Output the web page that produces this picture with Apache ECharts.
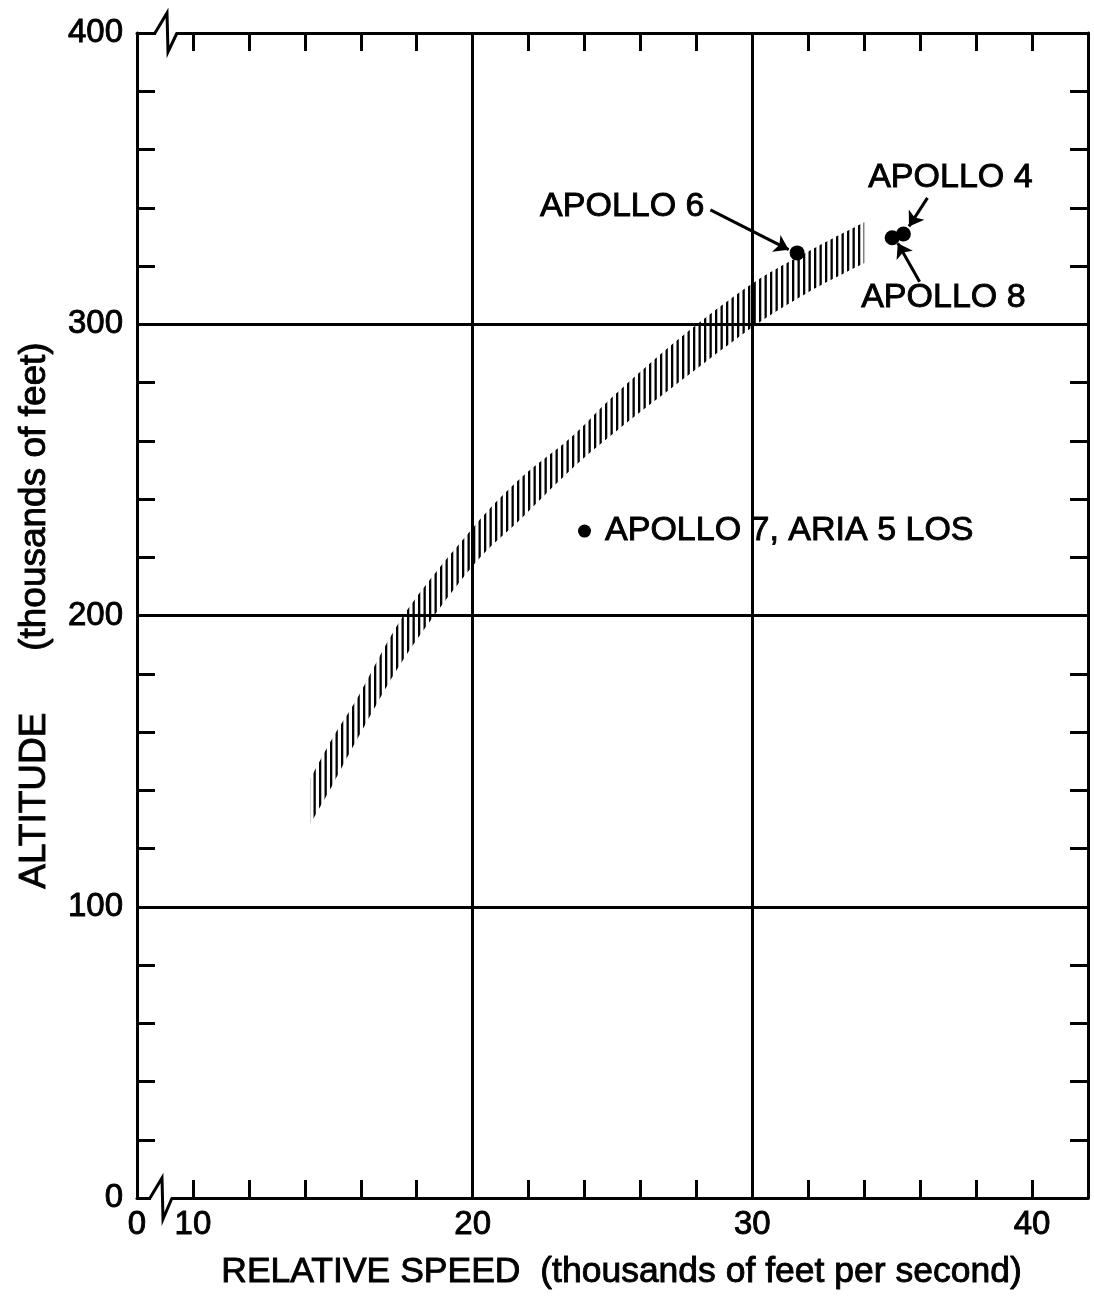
<!DOCTYPE html>
<html><head><meta charset="utf-8">
<script src="https://cdn.jsdelivr.net/npm/echarts@6/dist/echarts.min.js"></script>
<style>html,body{margin:0;padding:0;background:#fff}#c{width:1094px;height:1305px}</style>
</head><body><div id="c"></div>
<script>
// Band (hatched corridor) boundaries
const bandX     = [14.2, 15.0, 15.9, 17.6, 20.0, 21.7, 23.5, 25.1, 27.5, 30.0, 32.0, 34.0];
const bandUpper = [144, 158, 172, 201, 230, 247, 261, 276, 296, 314, 325, 335];
const bandLower = [128.5, 142, 158, 186, 217, 233, 250, 263, 281, 299, 311, 321];

// Flight points
const pointNames = ['APOLLO 6', 'APOLLO 4', 'APOLLO 8', 'APOLLO 7, ARIA 5 LOS'];
const pointX = [31.6, 35.4, 35.0, 24.0];
const pointY = [324.5, 331, 329.7, 229];

// Annotation labels (data coords) and arrows
const labelNames = ['APOLLO 6', 'APOLLO 4', 'APOLLO 8'];
const labelX = [28.29, 37.08, 36.83];
const labelY = [340.3, 350.3, 309.1];
const arrowFromX = [28.5, 36.26, 35.98];
const arrowFromY = [339.3, 343.4, 314.6];
const arrowToX = [31.3, 35.6, 35.2];
const arrowToY = [325.6, 333.6, 327.8];

// Axes
const xMin = 8, xMax = 42, xStep = 2;
const yMin = 0, yMax = 400, yStep = 20;
const xLabelValues = [10, 20, 30, 40];
const yLabelValues = [0, 100, 200, 300, 400];
const xGridValues = [20, 30];
const yGridValues = [100, 200, 300];

const FONT = "'Liberation Sans', Arial, sans-serif";
const TXT = {fontFamily: FONT, color: '#000', textBorderColor: '#000', textBorderWidth: 0.9};

// hatch pattern
const pat = document.createElement('canvas');
pat.width = 11; pat.height = 4;
const pc = pat.getContext('2d');
pc.fillStyle = '#fff'; pc.fillRect(0, 0, 11, 4);
pc.fillStyle = '#000'; pc.fillRect(0, 0, 2.3, 4); pc.fillRect(5.5, 0, 2.3, 4);

// Catmull-Rom path through pixel points
function crPath(pts, startCmd) {
  let d = startCmd + pts[0][0] + ' ' + pts[0][1];
  for (let i = 0; i < pts.length - 1; i++) {
    const p0 = pts[Math.max(0, i - 1)], p1 = pts[i], p2 = pts[i + 1], p3 = pts[Math.min(pts.length - 1, i + 2)];
    const c1 = [p1[0] + (p2[0] - p0[0]) / 6, p1[1] + (p2[1] - p0[1]) / 6];
    const c2 = [p2[0] - (p3[0] - p1[0]) / 6, p2[1] - (p3[1] - p1[1]) / 6];
    d += ' C' + c1[0] + ' ' + c1[1] + ' ' + c2[0] + ' ' + c2[1] + ' ' + p2[0] + ' ' + p2[1];
  }
  return d;
}

const chart = echarts.init(document.getElementById('c'), null, {renderer: 'canvas'});

const axisLineStyle = {color: '#000', width: 3};
const tickStyle = {show: true, inside: true, length: 18, lineStyle: {color: '#000', width: 3}};

const option = {
  backgroundColor: '#fff',
  animation: false,
  grid: {left: 137, right: 6, top: 33, bottom: 107, containLabel: false},
  xAxis: [
    {type: 'value', min: xMin, max: xMax, interval: xStep, position: 'bottom',
     axisLine: {show: true, onZero: false, lineStyle: axisLineStyle},
     axisTick: tickStyle, splitLine: {show: false},
     axisLabel: Object.assign({fontSize: 33, margin: 10,
       formatter: v => v === xMin ? '0' : (xLabelValues.indexOf(v) >= 0 ? String(v) : '')}, TXT),
     name: 'RELATIVE SPEED  (thousands of feet per second)', nameLocation: 'middle', nameGap: 56,
     nameTextStyle: Object.assign({fontSize: 35.5, padding: [0, 0, 0, 18]}, TXT)},
    {type: 'value', min: xMin, max: xMax, interval: xStep, position: 'top',
     axisLine: {show: true, onZero: false, lineStyle: axisLineStyle},
     axisTick: tickStyle, splitLine: {show: false}, axisLabel: {show: false}}
  ],
  yAxis: [
    {type: 'value', min: yMin, max: yMax, interval: yStep, position: 'left',
     axisLine: {show: true, onZero: false, lineStyle: axisLineStyle},
     axisTick: tickStyle, splitLine: {show: false},
     axisLabel: Object.assign({fontSize: 33, margin: 14,
       formatter: v => yLabelValues.indexOf(v) >= 0 ? String(v) : ''}, TXT),
     name: 'ALTITUDE      (thousands of feet)', nameLocation: 'middle', nameGap: 84, nameRotate: 90,
     nameTextStyle: Object.assign({fontSize: 37}, TXT)},
    {type: 'value', min: yMin, max: yMax, interval: yStep, position: 'right',
     axisLine: {show: true, onZero: false, lineStyle: axisLineStyle},
     axisTick: tickStyle, splitLine: {show: false}, axisLabel: {show: false}}
  ],
  series: [
    {type: 'line', name: 'grid', data: [], z: 1, silent: true,
     markLine: {silent: true, symbol: 'none', label: {show: false},
       lineStyle: {color: '#000', width: 3, type: 'solid'},
       data: xGridValues.map(v => ({xAxis: v})).concat(yGridValues.map(v => ({yAxis: v})))}},
    {type: 'custom', name: 'band', z: 3, silent: true,
     data: bandX.map((x, i) => [x, bandLower[i], bandUpper[i]]),
     renderItem: function (params, api) {
       if (params.dataIndex !== 0) return null;
       const up = bandX.map((x, i) => api.coord([x, bandUpper[i]]));
       const lo = bandX.map((x, i) => api.coord([x, bandLower[i]])).reverse();
       let d = crPath(up, 'M');
       d += ' L' + lo[0][0] + ' ' + lo[0][1];
       d += crPath(lo, ' L').replace(/^ L[^C]*/, '');
       d += ' Z';
       return {type: 'path', shape: {pathData: d},
         style: {fill: {type: 'pattern', image: pat, repeat: 'repeat'}, stroke: null}};
     }},
    {type: 'line', name: 'arrows', data: [], z: 4, silent: true,
     markLine: {silent: true, symbol: ['none', 'arrow'], symbolSize: 14, label: {show: false},
       lineStyle: {color: '#000', width: 3, type: 'solid', opacity: 1},
       data: arrowFromX.map((x, i) => [{coord: [x, arrowFromY[i]]}, {coord: [arrowToX[i], arrowToY[i]]}])}},
    {type: 'scatter', name: 'points', z: 5, symbol: 'circle', silent: true,
     itemStyle: {color: '#000', opacity: 1},
     data: pointX.map((x, i) => ({
       value: [x, pointY[i]], name: pointNames[i], symbolSize: i === 3 ? 13 : 15,
       label: i === 3 ? Object.assign({show: true, position: 'right', distance: 14, formatter: '{b}', fontSize: 34}, TXT)
                      : {show: false}
     }))},
    {type: 'scatter', name: 'labels', z: 5, symbolSize: 0, silent: true,
     itemStyle: {opacity: 1},
     data: labelX.map((x, i) => ({
       value: [x, labelY[i]], name: labelNames[i],
       label: Object.assign({show: true, position: 'inside', formatter: '{b}', fontSize: 34,
         align: i === 0 ? 'right' : 'center', verticalAlign: 'middle'}, TXT)
     }))}
  ]
};
chart.setOption(option);

// axis break symbols drawn from the axes' own scale
function breakMark(yVal, dirUp) {
  const base = chart.convertToPixel({gridIndex: 0}, [xMin, yVal]);
  const bx = base[0], by = base[1];
  const pts = dirUp
    ? [[bx + 18, by], [bx + 30, by - 20], [bx + 31, by + 19], [bx + 40, by]]
    : [[bx + 13, by], [bx + 25, by - 20], [bx + 26, by + 21], [bx + 35, by]];
  return [
    {type: 'rect', shape: {x: pts[0][0] + 1, y: by - 3, width: pts[3][0] - pts[0][0] - 2, height: 6},
     style: {fill: '#fff'}, z: 100},
    {type: 'polyline', shape: {points: pts}, style: {stroke: '#000', lineWidth: 3, fill: null}, z: 101}
  ];
}
chart.setOption({graphic: breakMark(yMax, true).concat(breakMark(yMin, false))});
</script></body></html>
